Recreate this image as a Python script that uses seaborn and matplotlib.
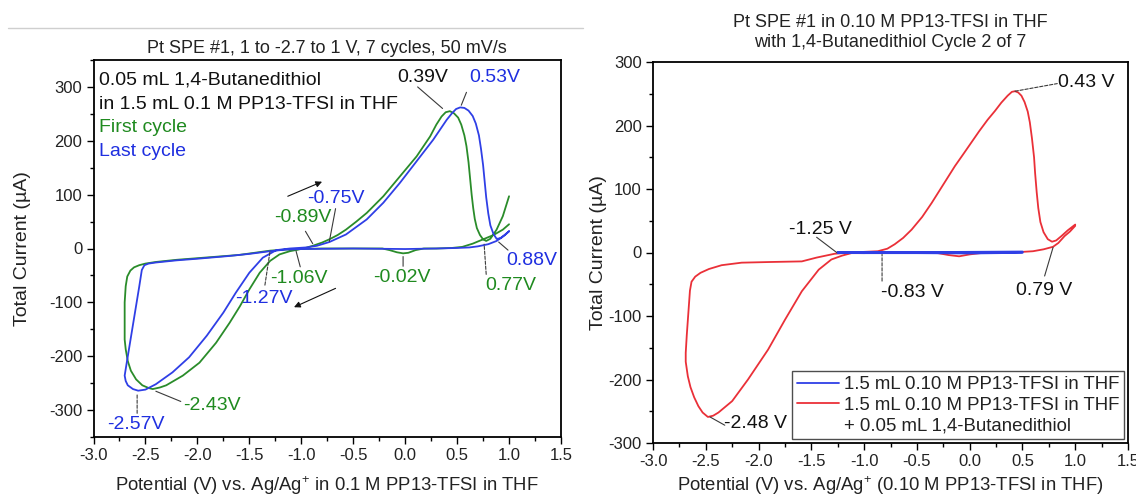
import matplotlib
matplotlib.use("Agg")
import matplotlib.pyplot as plt
import seaborn as sns
import pandas as pd
from matplotlib.lines import Line2D
from matplotlib.ticker import MultipleLocator

# ---------------- data ----------------
# Left panel: first cycle (green)
first_v = [1.00, 0.94, 0.85, 0.75, 0.65, 0.55, 0.45, 0.30, 0.18, 0.10, 0.03, -0.02, -0.08, -0.15,
           -0.22, -0.50, -0.80, -1.00, -1.15, -1.30, -1.45, -1.60, -1.80, -2.00, -2.20, -2.40,
           -2.50, -2.56, -2.61, -2.645, -2.675, -2.69, -2.70, -2.70, -2.70, -2.69, -2.67, -2.64,
           -2.59, -2.53, -2.47, -2.43, -2.36, -2.30, -2.14, -1.98, -1.82, -1.69, -1.59, -1.50,
           -1.40, -1.30, -1.21, -1.11, -1.03, -0.96, -0.89, -0.80, -0.73, -0.65, -0.57, -0.47,
           -0.37, -0.21, -0.05, 0.11, 0.24, 0.30, 0.35, 0.39, 0.43, 0.47, 0.51, 0.54, 0.57,
           0.59, 0.61, 0.625, 0.64, 0.655, 0.67, 0.69, 0.72, 0.75, 0.78, 0.82, 0.88, 0.94, 1.00]
first_i = [45, 35, 25, 17, 9, 3, 1, 0, 0, -3, -8, -9, -7, -3,
           0, 0, 0, -1, -2, -4, -8, -12, -15, -18, -21, -25,
           -28, -31, -35, -41, -52, -70, -100, -140, -169, -187, -209, -227,
           -243, -254, -259, -261, -258, -254, -236, -212, -175, -138, -107, -76,
           -45, -23, -11, -5, -2, 1, 5, 11, 17, 25, 35, 50,
           66, 97, 134, 171, 208, 230, 245, 253, 255, 251, 243, 230, 210,
           190, 160, 130, 100, 75, 55, 38, 25, 17, 14, 18, 35, 60, 97]

# Left panel: last cycle (blue)
last_v = [1.00, 0.95, 0.88, 0.80, 0.70, 0.62, 0.50, 0.30, 0.00, -0.50, -1.00, -1.15, -1.30,
          -1.50, -1.70, -2.00, -2.20, -2.40, -2.47, -2.51, -2.535, -2.56, -2.60, -2.64, -2.68,
          -2.70, -2.69, -2.67, -2.62, -2.57, -2.50, -2.40, -2.24, -2.08, -1.91, -1.75, -1.63,
          -1.50, -1.37, -1.24, -1.11, -0.95, -0.85, -0.73, -0.57, -0.37, -0.21, -0.05, 0.11,
          0.27, 0.40, 0.45, 0.49, 0.53, 0.57, 0.61, 0.65, 0.68, 0.71, 0.73, 0.75, 0.765, 0.78,
          0.80, 0.82, 0.85, 0.88, 0.92, 0.96, 1.00]
last_i = [32, 24, 14, 8, 4, 2, 1, 0, -1, 0, -1, -2, -5,
          -10, -14, -19, -22, -26, -28, -31, -40, -71, -118, -165, -212,
          -236, -246, -254, -261, -264, -262, -252, -230, -202, -162, -119, -82,
          -45, -17, -3, 0, 2, 5, 12, 26, 54, 85, 122, 162,
          202, 239, 251, 259, 262, 261, 256, 246, 232, 210, 185, 155, 125, 95,
          65, 43, 27, 18, 19, 25, 32]

# Right panel: with 1,4-butanedithiol, cycle 2 (red)
thiol_v = [1.00, 0.95, 0.90, 0.84, 0.79, 0.70, 0.60, 0.50, 0.30, 0.10, 0.00, -0.10, -0.20, -0.30,
           -0.50, -0.80, -1.00, -1.20, -1.28, -1.45, -1.59, -1.90, -2.16, -2.35, -2.47, -2.55,
           -2.60, -2.635, -2.65, -2.665, -2.68, -2.69, -2.69, -2.67, -2.645, -2.61, -2.57, -2.53,
           -2.48, -2.43, -2.38, -2.25, -2.10, -1.91, -1.75, -1.59, -1.43, -1.31, -1.21, -1.10,
           -1.00, -0.87, -0.78, -0.71, -0.63, -0.55, -0.45, -0.36, -0.25, -0.14, -0.06, 0.015,
           0.09, 0.17, 0.24, 0.30, 0.36, 0.40, 0.43, 0.46, 0.49, 0.52, 0.55, 0.57, 0.59, 0.61,
           0.62, 0.635, 0.65, 0.67, 0.70, 0.74, 0.78, 0.82, 0.87, 0.93, 1.00]
thiol_i = [42, 33, 26, 15, 9, 5, 2, 1, 0, -1, -3, -6, -4, -1,
           0, 0, -1, -1, -2, -8, -14, -15, -16, -20, -26, -32,
           -38, -46, -60, -95, -130, -158, -172, -195, -212, -228, -242, -252,
           -259, -257, -252, -234, -200, -153, -106, -61, -27, -11, -5, 0,
           1, 2, 6, 13, 23, 36, 56, 78, 107, 136, 155, 173,
           191, 209, 223, 236, 247, 253, 254, 252, 247, 237, 222, 205, 180, 150,
           125, 95, 70, 48, 32, 21, 17, 19, 26, 35, 44]

# Right panel: electrolyte only (blue)
blank_v = [-1.25, -1.00, -0.50, 0.00, 0.50, 0.50, 0.00, -0.50, -1.00, -1.25]
blank_i = [0, 0, 0, 0.5, 1, 0, -1, -0.5, -0.5, 0]

x_ticks = [-3.0, -2.5, -2.0, -1.5, -1.0, -0.5, 0.0, 0.5, 1.0, 1.5]
left_y_ticks = [-300, -200, -100, 0, 100, 200, 300]
right_y_ticks = [-300, -200, -100, 0, 100, 200, 300]

# ---------------- style ----------------
sns.set_theme(style="ticks")
plt.rcParams["font.family"] = ["Liberation Sans", "DejaVu Sans"]
plt.rcParams["mathtext.fontset"] = "custom"
plt.rcParams["mathtext.rm"] = "Liberation Sans"
plt.rcParams["mathtext.it"] = "Liberation Sans:italic"
plt.rcParams["axes.unicode_minus"] = False

GREEN = "#2a8c2a"
GREEN_T = "#1f8a1f"
BLUE = "#2f3fe6"
BLUE_T = "#1f2fe0"
RED = "#ea3038"
PTR = "#3a3a3a"
TXT = "#222222"

W, H = 1136, 499
fig = plt.figure(figsize=(W / 100, H / 100), dpi=100)
ax1 = fig.add_axes([93.5 / W, (H - 437) / H, 467.5 / W, 377 / H])
ax2 = fig.add_axes([653 / W, (H - 443) / H, 475 / W, 381 / H])

df_first = pd.DataFrame({"V": first_v, "I": first_i})
df_last = pd.DataFrame({"V": last_v, "I": last_i})
df_thiol = pd.DataFrame({"V": thiol_v, "I": thiol_i})
df_blank = pd.DataFrame({"V": blank_v, "I": blank_i})

kw = dict(sort=False, estimator=None)
sns.lineplot(data=df_first, x="V", y="I", color=GREEN, lw=1.3, ax=ax1, **kw)
sns.lineplot(data=df_last, x="V", y="I", color=BLUE, lw=1.3, ax=ax1, **kw)
sns.lineplot(data=df_thiol, x="V", y="I", color=RED, lw=1.3, ax=ax2, **kw)
sns.lineplot(data=df_blank, x="V", y="I", color=BLUE, lw=1.8, ax=ax2, **kw)
for ax in (ax1, ax2):
    for ln in ax.lines:
        ln.set_solid_joinstyle("round")

for ax, yt, ylim in [(ax1, left_y_ticks, (-350, 350)), (ax2, right_y_ticks, (-300, 300))]:
    ax.set_xlim(-3.0, 1.5)
    ax.set_ylim(*ylim)
    ax.set_xticks(x_ticks)
    ax.set_xticklabels([f"{t:.1f}" for t in x_ticks])
    ax.set_yticks(yt)
    ax.set_yticklabels([str(t) for t in yt])
    ax.xaxis.set_minor_locator(MultipleLocator(0.25))
    ax.yaxis.set_minor_locator(MultipleLocator(50))
    ax.tick_params(which="major", direction="out", length=5, width=1.0, labelsize=12,
                   color="black", labelcolor=TXT, pad=3)
    ax.tick_params(which="minor", direction="out", length=3, width=1.0, color="black")
    ax.tick_params(top=False, right=False, which="both")
    for s in ax.spines.values():
        s.set_visible(True)
        s.set_color("black")
        s.set_linewidth(1.3)

ax1.set_ylabel("Total Current (µA)", fontsize=14, color=TXT, labelpad=13)
ax2.set_ylabel("Total Current (µA)", fontsize=14, color=TXT, labelpad=1)
ax1.set_xlabel("Potential (V) vs. Ag/Ag$^{+}$ in 0.1 M PP13-TFSI in THF", fontsize=13.3,
               color=TXT, labelpad=8)
ax2.set_xlabel("Potential (V) vs. Ag/Ag$^{+}$ (0.10 M PP13-TFSI in THF)", fontsize=13.3,
               color=TXT, labelpad=4)
ax1.set_title("Pt SPE #1, 1 to -2.7 to 1 V, 7 cycles, 50 mV/s", fontsize=13, color=TXT, pad=5)
ax2.set_title("Pt SPE #1 in 0.10 M PP13-TFSI in THF\nwith 1,4-Butanedithiol Cycle 2 of 7",
              fontsize=13, color=TXT, pad=11, linespacing=1.2)

# ---------------- left panel texts ----------------
FS = 14
ax1.text(-2.95, 312, "0.05 mL 1,4-Butanedithiol", fontsize=FS, color="#111111", va="center")
ax1.text(-2.95, 268, "in 1.5 mL 0.1 M PP13-TFSI in THF", fontsize=FS, color="#111111", va="center")
ax1.text(-2.95, 224, "First cycle", fontsize=FS, color=GREEN_T, va="center")
ax1.text(-2.95, 180, "Last cycle", fontsize=FS, color=BLUE_T, va="center")


def label(ax, x, y, s, color, ptr=None, dashed=False):
    ax.text(x, y, s, fontsize=FS, color=color, ha="center", va="center")
    if ptr is not None:
        (x0, y0), (x1, y1) = ptr
        ax.annotate("", xy=(x1, y1), xytext=(x0, y0),
                    arrowprops=dict(arrowstyle="-", color=PTR, lw=0.8,
                                    linestyle=(0, (3, 1.5)) if dashed else "-",
                                    shrinkA=0, shrinkB=0))


label(ax1, 0.17, 318, "0.39V", "#111111", ((0.12, 300), (0.36, 260)))
label(ax1, 0.86, 318, "0.53V", BLUE_T, ((0.59, 290), (0.54, 266)))
label(ax1, -0.67, 93, "-0.75V", BLUE_T, ((-0.67, 74), (-0.73, 13)))
label(ax1, -0.99, 58, "-0.89V", GREEN_T, ((-0.96, 32), (-0.89, 9)))
label(ax1, -1.02, -56, "-1.06V", GREEN_T, ((-1.01, -34), (-1.05, -5)))
label(ax1, -1.36, -93, "-1.27V", BLUE_T, ((-1.35, -68), (-1.30, -4)), dashed=True)
label(ax1, -0.03, -54, "-0.02V", GREEN_T, ((-0.02, -33), (-0.02, -15)))
label(ax1, 1.02, -68, "0.77V", GREEN_T, ((0.78, -48), (0.76, 8)), dashed=True)
label(ax1, 1.22, -23, "0.88V", BLUE_T, ((0.99, -3), (0.90, 12)))
label(ax1, -1.86, -291, "-2.43V", GREEN_T, ((-2.16, -284), (-2.40, -265)))
label(ax1, -2.59, -327, "-2.57V", BLUE_T, ((-2.58, -306), (-2.58, -272)), dashed=True)

ax1.annotate("", xy=(-0.80, 124), xytext=(-1.13, 97),
             arrowprops=dict(arrowstyle="-|>", color="#111111", lw=0.8, mutation_scale=9,
                             shrinkA=0, shrinkB=0))
ax1.annotate("", xy=(-1.07, -109), xytext=(-0.67, -74),
             arrowprops=dict(arrowstyle="-|>", color="#111111", lw=0.8, mutation_scale=9,
                             shrinkA=0, shrinkB=0))

# ---------------- right panel texts ----------------
label(ax2, 1.10, 267, "0.43 V", "#111111", ((0.43, 254), (0.83, 266)), dashed=True)
label(ax2, -1.41, 37, "-1.25 V", "#111111", ((-1.45, 24), (-1.26, 0)))
label(ax2, -0.54, -63, "-0.83 V", "#111111", ((-0.83, -45), (-0.83, -3)), dashed=True)
label(ax2, 0.71, -60, "0.79 V", "#111111", ((0.71, -37), (0.79, 8)))
label(ax2, -2.03, -270, "-2.48 V", "#111111", ((-2.32, -272), (-2.46, -259)))

handles = [Line2D([], [], color=BLUE, lw=1.3), Line2D([], [], color=RED, lw=1.3),
           Line2D([], [], color="none", lw=1.3)]
labels = ["1.5 mL 0.10 M PP13-TFSI in THF", "1.5 mL 0.10 M PP13-TFSI in THF",
          "+ 0.05 mL 1,4-Butanedithiol"]
leg = ax2.legend(handles, labels, loc="lower right", bbox_to_anchor=(0.992, 0.01),
                 fontsize=13.4, frameon=True, fancybox=False, edgecolor=TXT,
                 handlelength=2.3, handletextpad=0.25, labelspacing=0.2, borderpad=0.25,
                 borderaxespad=0)
leg.get_frame().set_linewidth(1.0)
for t in leg.get_texts():
    t.set_color(TXT)

# thin grey separator line at the top left (as in the reference screenshot)
fig.add_artist(Line2D([8 / W, 583 / W], [(H - 28) / H, (H - 28) / H], color="#cfcfcf", lw=1.0))

fig.savefig("out.png", dpi=100)
